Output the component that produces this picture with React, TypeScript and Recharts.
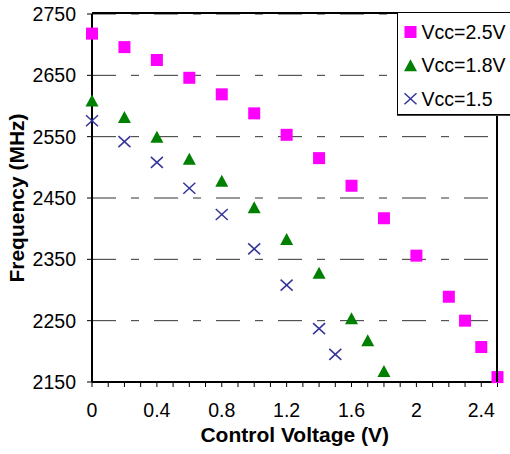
import * as React from "react";
import {
  CartesianGrid,
  Label,
  Scatter,
  ScatterChart,
  XAxis,
  YAxis,
} from "recharts";

// control voltage (V) and frequency (MHz) per supply voltage
const vcc25Volts = [0, 0.2, 0.4, 0.6, 0.8, 1.0, 1.2, 1.4, 1.6, 1.8, 2.0, 2.2, 2.3, 2.4, 2.5];
const vcc25Freq = [2718, 2696, 2675, 2646, 2619, 2588, 2553, 2515, 2470, 2417, 2356, 2289, 2250, 2207, 2158];

const vcc18Volts = [0, 0.2, 0.4, 0.6, 0.8, 1.0, 1.2, 1.4, 1.6, 1.7, 1.8];
const vcc18Freq = [2609, 2582, 2550, 2514, 2478, 2435, 2383, 2328, 2254, 2218, 2168];

const vcc15Volts = [0, 0.2, 0.4, 0.6, 0.8, 1.0, 1.2, 1.4, 1.5];
const vcc15Freq = [2576, 2542, 2508, 2466, 2423, 2367, 2308, 2237, 2195];

const seriesNames = ["Vcc=2.5V", "Vcc=1.8V", "Vcc=1.5"];

const xTicks = [0, 0.1, 0.2, 0.3, 0.4, 0.5, 0.6, 0.7, 0.8, 0.9, 1.0, 1.1, 1.2, 1.3, 1.4, 1.5, 1.6, 1.7, 1.8, 1.9, 2.0, 2.1, 2.2, 2.3, 2.4, 2.5];
const xLabels = ["0", "0.4", "0.8", "1.2", "1.6", "2", "2.4"];
const yTicks = [2150, 2250, 2350, 2450, 2550, 2650, 2750];

const FONT = "'Liberation Sans', Arial, sans-serif";
const PINK = "#FF00FF";
const GREEN = "#008000";
const NAVY = "#333399";

const toPoints = (xs: number[], ys: number[]) => xs.map((x, i) => ({ x, y: ys[i] }));

const Square = (props: any) => {
  const { cx, cy } = props;
  return <rect x={cx - 6} y={cy - 6} width={12} height={12} fill={PINK} />;
};

const Triangle = (props: any) => {
  const { cx, cy } = props;
  return <polygon points={`${cx},${cy - 6} ${cx + 6.5},${cy + 6} ${cx - 6.5},${cy + 6}`} fill={GREEN} />;
};

const Cross = (props: any) => {
  const { cx, cy } = props;
  return (
    <g stroke={NAVY} strokeWidth={1.5}>
      <line x1={cx - 6} y1={cy - 5.5} x2={cx + 6} y2={cy + 5.5} />
      <line x1={cx - 6} y1={cy + 5.5} x2={cx + 6} y2={cy - 5.5} />
    </g>
  );
};

const xTickFormatter = (v: number) => {
  const key = String(Math.round(v * 10) / 10);
  return xLabels.includes(key) ? key : "";
};

function ChartLegend() {
  const rows = [19, 52.3, 85.7];
  return (
    <div
      style={{
        position: "absolute",
        left: 397,
        top: 12,
        width: 120,
        height: 101,
        zIndex: 3,
        background: "#fff",
        border: "1px solid #000",
        boxShadow: "0 1px 0 #444",
      }}
    >
      <svg width={120} height={101} style={{ display: "block" }}>
        <rect x={6.5} y={rows[0] - 6} width={12} height={12} fill={PINK} />
        <polygon points={`12.5,${rows[1] - 6} 19,${rows[1] + 6} 6,${rows[1] + 6}`} fill={GREEN} />
        <g stroke={NAVY} strokeWidth={1.5}>
          <line x1={6.5} y1={rows[2] - 5.5} x2={18.5} y2={rows[2] + 5.5} />
          <line x1={6.5} y1={rows[2] + 5.5} x2={18.5} y2={rows[2] - 5.5} />
        </g>
        {seriesNames.map((name, i) => (
          <text key={name} x={23.5} y={rows[i] + 7} fontFamily={FONT} fontSize={19.5} fill="#000">
            {name}
          </text>
        ))}
      </svg>
    </div>
  );
}

export default function App() {
  return (
    <div style={{ position: "relative", width: 510, height: 454, overflow: "hidden", background: "#fff" }}>
      <style>{`body{margin:0}`}</style>
      <ScatterChart width={510} height={454} margin={{ top: 14, right: 12.5, left: 0, bottom: 0 }}>
        <CartesianGrid vertical={false} stroke="#333" strokeDasharray="24 15 8 15" />
        <XAxis
          type="number"
          dataKey="x"
          domain={[0, 2.5]}
          ticks={xTicks}
          interval={0}
          tickFormatter={xTickFormatter}
          height={72}
          tickSize={5}
          tickMargin={16}
          axisLine={{ stroke: "#000", strokeWidth: 2 }}
          tickLine={{ stroke: "#000" }}
          tick={{ fill: "#000", fontSize: 19.5, fontFamily: FONT }}
        >
          <Label
            content={({ viewBox }: any) => (
              <text
                x={viewBox.x + viewBox.width / 2}
                y={442}
                textAnchor="middle"
                fontFamily={FONT}
                fontWeight="bold"
                fontSize={21}
                fill="#000"
              >
                Control Voltage (V)
              </text>
            )}
          />
        </XAxis>
        <YAxis
          type="number"
          dataKey="y"
          domain={[2150, 2750]}
          ticks={yTicks}
          interval={0}
          width={92}
          tickSize={5}
          tickMargin={11}
          axisLine={{ stroke: "#000", strokeWidth: 2 }}
          tickLine={{ stroke: "#000" }}
          tick={{ fill: "#000", fontSize: 19.5, fontFamily: FONT }}
        >
          <Label
            content={({ viewBox }: any) => {
              const cy = viewBox.y + viewBox.height / 2;
              return (
                <text
                  x={24}
                  y={cy}
                  transform={`rotate(-90, 24, ${cy})`}
                  textAnchor="middle"
                  fontFamily={FONT}
                  fontWeight="bold"
                  fontSize={21}
                  fill="#000"
                >
                  Frequency (MHz)
                </text>
              );
            }}
          />
        </YAxis>
        <Scatter name={seriesNames[0]} data={toPoints(vcc25Volts, vcc25Freq)} shape={Square} isAnimationActive={false} />
        <Scatter name={seriesNames[1]} data={toPoints(vcc18Volts, vcc18Freq)} shape={Triangle} isAnimationActive={false} />
        <Scatter name={seriesNames[2]} data={toPoints(vcc15Volts, vcc15Freq)} shape={Cross} isAnimationActive={false} />
      </ScatterChart>
      {/* top and right frame of the plot area */}
      <div
        style={{
          position: "absolute",
          left: 92,
          top: 12,
          width: 404,
          height: 368,
          zIndex: 2,
          borderTop: "2px solid #000",
          borderRight: "2px solid #000",
          pointerEvents: "none",
        }}
      />
      <ChartLegend />
    </div>
  );
}
